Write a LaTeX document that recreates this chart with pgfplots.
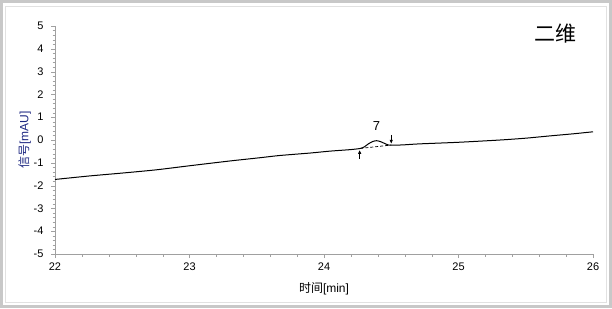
\documentclass[border=0pt]{standalone}
\usepackage{pgfplots}
\pgfplotsset{compat=1.18}
\usepackage{fontspec}
\setmainfont{Liberation Sans}
\newfontfamily\cjk{Noto Sans CJK SC}
\usetikzlibrary{arrows.meta}
\definecolor{axgray}{RGB}{160,160,160}
\definecolor{ylab}{RGB}{30,40,130}
\begin{document}
\begin{tikzpicture}[x=1pt,y=1pt]
\fill[white] (0,0) rectangle (612,308);
\draw[line width=3pt, color={rgb,255:red,200;green,200;blue,200}] (1.5,1.5) rectangle (610.5,306.5);
\draw[line width=0.6pt, color={rgb,255:red,225;green,225;blue,225}] (5,6) rectangle (606,302);
\begin{axis}[
  at={(55pt,54pt)}, anchor=south west,
  scale only axis, width=538pt, height=228pt,
  xmin=22, xmax=26, ymin=-5, ymax=5,
  axis x line=bottom, axis y line=left,
  axis line style={axgray, -},
  xtick={22,23,24,25,26}, ytick={-5,-4,...,5},
  minor x tick num=4, minor y tick num=4,
  tick style={axgray}, tick align=outside,
  major tick length=4pt, minor tick length=2.5pt,
  /pgf/number format/assume math mode=true,
  ticklabel style={font=\fontsize{11}{13}\selectfont, black},
  yticklabel style={xshift=-4pt},
  xticklabel style={yshift=-1pt},
  xlabel={\cjk 时间\normalfont[min]},
  ylabel={\textcolor{ylab}{\cjk 信号\normalfont[mAU]}},
  label style={font=\fontsize{12}{14}\selectfont},
  xlabel style={yshift=-5pt},
  ylabel style={yshift=-4pt},
  clip=false,
]
\addplot[black, line width=1pt, smooth, tension=0.4] coordinates {
(22.00,-1.73) (22.25,-1.58) (22.50,-1.45) (22.75,-1.31) (23.00,-1.13)
(23.30,-0.92) (23.52,-0.78) (23.67,-0.68) (23.90,-0.57) (24.04,-0.49)
(24.20,-0.42) (24.27,-0.37) (24.30,-0.30) (24.33,-0.17) (24.36,-0.07)
(24.39,-0.03) (24.42,-0.07) (24.45,-0.15) (24.48,-0.22) (24.52,-0.23)
(24.60,-0.21) (24.71,-0.17) (25.00,-0.10) (25.31,0.00) (25.50,0.08)
(25.68,0.18) (25.85,0.27) (26.00,0.36)
};
\addplot[black, densely dashed, line width=0.7pt] coordinates {(24.27,-0.37) (24.50,-0.22)};
\addplot[black, line width=0.8pt, -{Latex[length=4pt,width=3.5pt]}] coordinates {(24.265,-0.82) (24.265,-0.43)};
\addplot[black, line width=0.8pt, -{Latex[length=4pt,width=3.5pt]}] coordinates {(24.50,0.22) (24.50,-0.17)};
\node[font=\fontsize{13}{15}\selectfont] at (axis cs:24.39,0.60) {7};
\end{axis}
\node[font=\cjk\fontsize{21}{24}\selectfont] at (555,274) {二维};
\end{tikzpicture}
\end{document}
